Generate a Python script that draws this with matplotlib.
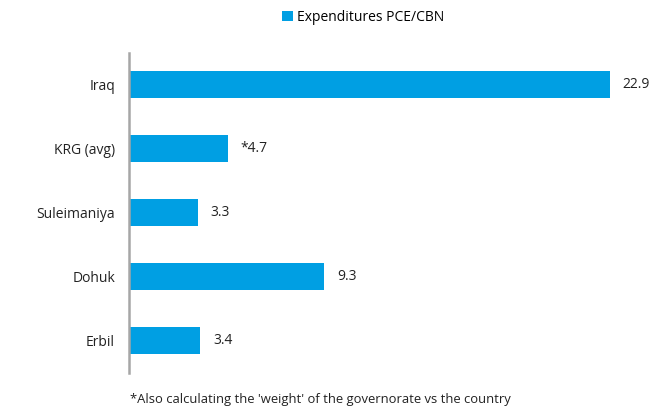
import matplotlib.pyplot as plt

plt.rcParams['font.family'] = ['Open Sans', 'DejaVu Sans']

regions = ["Erbil", "Dohuk", "Suleimaniya", "KRG (avg)", "Iraq"]
values = [3.4, 9.3, 3.3, 4.7, 22.9]
labels = ["3.4", "9.3", "3.3", "*4.7", "22.9"]
blue = "#009fe3"

fig = plt.figure(figsize=(6.53, 4.12), dpi=100)
ax = fig.add_axes([0.1975, 0.095, 0.772, 0.777])

ax.barh(regions, values, height=0.42, color=blue, label="Expenditures PCE/CBN")
for i, (v, t) in enumerate(zip(values, labels)):
    ax.annotate(t, (v, i), xytext=(9, 0), textcoords="offset points",
                va="center", ha="left", fontsize=10, color="#222222")

ax.set_xlim(0, 24)
ax.set_ylim(-0.5, 4.5)
for s in ["top", "right", "bottom"]:
    ax.spines[s].set_visible(False)
ax.spines["left"].set_color("#a6a6a6")
ax.spines["left"].set_linewidth(1.8)
ax.set_xticks([])
ax.tick_params(axis="y", length=0, pad=10, labelsize=10, labelcolor="#222222")

fig.legend(loc="center", bbox_to_anchor=(0.556, 0.958), frameon=False,
           fontsize=10, handlelength=0.8, handleheight=0.8, handletextpad=0.3)

fig.text(0.199, 0.022, "*Also calculating the 'weight' of the governorate vs the country",
         fontsize=9.4, color="#222222")

fig.savefig("out.png", dpi=100)
